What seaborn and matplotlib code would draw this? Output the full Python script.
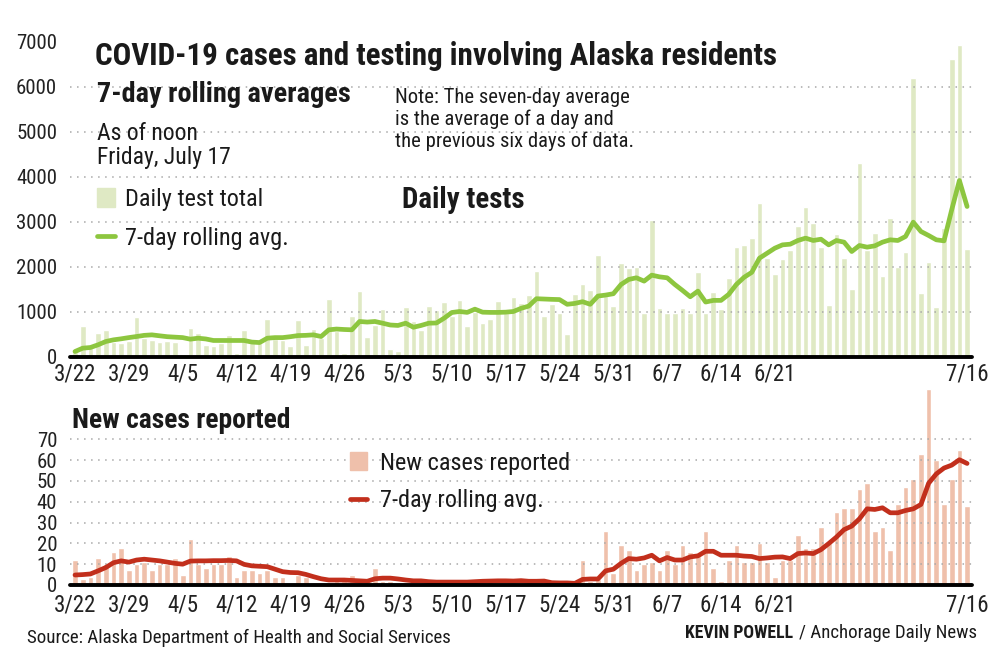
import numpy as np
import pandas as pd
import matplotlib
matplotlib.use("Agg")
import matplotlib.pyplot as plt
from matplotlib import font_manager
from matplotlib.patches import Rectangle
from matplotlib.lines import Line2D
import seaborn as sns

sns.set_style("white")

# pick a condensed font if one is installed
names = {f.name for f in font_manager.fontManager.ttflist}
if "Liberation Sans Narrow" in names:
    FONT, k = "Liberation Sans Narrow", 1.0
elif "Roboto Condensed" in names:
    FONT, k = "Roboto Condensed", 0.97
else:
    FONT, k = "Roboto", 0.82
plt.rcParams["font.family"] = [FONT, "DejaVu Sans"]

# 1) Data (3/22 - 7/16)
start = "2020-03-22"
end = "2020-07-16"

daily_tests = [
    100, 670, 250, 520, 580, 330, 300, 350, 885, 405,
    366, 330, 350, 330, 50, 634, 520, 252, 230, 290,
    480, 80, 595, 290, 290, 824, 382, 366, 229, 809,
    252, 610, 405, 1270, 557, 70, 895, 1460, 428, 705,
    1050, 160, 130, 1100, 800, 590, 1125, 1040, 1220, 890,
    1260, 670, 1000, 755, 830, 1237, 963, 1333, 1190, 1360,
    1900, 900, 1160, 960, 495, 1395, 1615, 1470, 2250, 1340,
    1125, 2070, 1970, 2000, 975, 3040, 1085, 975, 975, 1085,
    975, 1880, 975, 1440, 1060, 1750, 2430, 2470, 2630, 3422,
    2200, 1830, 2170, 2370, 2900, 3315, 2963, 2440, 1150, 2720,
    2200, 1500, 4300, 2370, 2755, 1800, 3074, 2000, 2333, 6185,
    1422, 2090, 1111, 2850, 6607, 6926, 2385,
]

tests_avg = [
    111, 185, 200, 260, 333, 370, 393, 420, 444, 470,
    481, 460, 440, 430, 420, 385, 407, 390, 356, 356,
    356, 356, 356, 320, 310, 407, 420, 420, 440, 465,
    470, 481, 444, 593, 610, 600, 593, 778, 765, 778,
    740, 700, 690, 740, 650, 690, 740, 745, 852, 978,
    1000, 980, 1052, 985, 980, 980, 985, 1000, 1070, 1120,
    1284, 1277, 1270, 1265, 1160, 1180, 1218, 1160, 1343, 1365,
    1395, 1600, 1712, 1749, 1675, 1808, 1770, 1749, 1600, 1468,
    1328, 1453, 1210, 1247, 1247, 1380, 1601, 1760, 1870, 2185,
    2296, 2407, 2481, 2496, 2578, 2630, 2578, 2607, 2481, 2578,
    2541, 2333, 2467, 2430, 2459, 2541, 2593, 2578, 2667, 2985,
    2778, 2689, 2593, 2570, 3259, 3911, 3333,
]

new_cases = [
    12, 3, 4, 13, 10, 16, 18, 7, 10, 11,
    7, 10, 10, 13, 5, 22, 10, 8, 10, 10,
    14, 4, 7, 7, 6, 7, 4, 4, 1, 5,
    4, 1, 1, 1, 2, 2, 5, 2, 1, 8,
    2, 2, 1, 1, 0, 1, 1, 0, 1, 1,
    1, 1, 3, 1, 2, 1, 1, 1, 1, 2,
    1, 1, 0, 0, 0, 0, 12, 2, 3, 26,
    6, 19, 17, 7, 10, 11, 7, 17, 10, 19,
    16, 14, 26, 8, 2, 12, 19, 11, 11, 20,
    11, 4, 12, 12, 24, 18, 18, 28, 20, 35,
    37, 37, 46, 49, 26, 28, 17, 39, 47, 51,
    63, 94, 60, 39, 51, 65, 38,
]

cases_avg = [
    4.8, 5.0, 5.3, 6.8, 8.4, 10.7, 11.6, 11.0, 12.0, 12.4,
    12.0, 11.6, 11.0, 10.4, 10.0, 11.5, 11.6, 11.6, 11.7, 11.7,
    11.8, 11.6, 9.9, 9.2, 9.0, 8.8, 7.6, 6.4, 6.0, 5.9,
    5.1, 4.0, 3.0, 2.4, 2.4, 2.4, 2.2, 2.0, 1.8, 3.0,
    3.3, 3.3, 2.9, 2.4, 2.0, 2.0, 1.6, 1.4, 1.4, 1.4,
    1.4, 1.4, 1.6, 1.8, 1.9, 2.0, 2.0, 1.9, 2.1, 1.8,
    1.8, 1.9, 1.1, 1.0, 1.0, 0.8, 2.7, 2.9, 2.9, 6.8,
    7.6, 10.4, 12.7, 12.4, 13.0, 14.3, 11.6, 13.2, 12.0, 12.0,
    13.5, 14.0, 16.2, 16.2, 14.3, 14.3, 14.3, 13.9, 13.7, 12.7,
    13.0, 13.4, 13.5, 12.7, 15.1, 15.4, 15.1, 17.0, 19.9, 23.0,
    26.6, 28.3, 31.8, 36.6, 36.3, 37.1, 34.7, 34.7, 35.8, 36.6,
    38.7, 48.9, 53.4, 56.2, 57.6, 60.2, 58.4,
]

tick_dates = ["2020-03-22", "2020-03-29", "2020-04-05", "2020-04-12", "2020-04-19",
              "2020-04-26", "2020-05-03", "2020-05-10", "2020-05-17", "2020-05-24",
              "2020-05-31", "2020-06-07", "2020-06-14", "2020-06-21", "2020-07-16"]
tick_labels = ["3/22", "3/29", "4/5", "4/12", "4/19", "4/26", "5/3", "5/10",
               "5/17", "5/24", "5/31", "6/7", "6/14", "6/21", "7/16"]
test_yticks = [0, 1000, 2000, 3000, 4000, 5000, 6000, 7000]
case_yticks = [0, 10, 20, 30, 40, 50, 60, 70]

# 2) Build frame
dates = pd.date_range(start, end)
df = pd.DataFrame({
    "date": dates,
    "tests": daily_tests,
    "tests_avg": tests_avg,
    "cases": new_cases,
    "cases_avg": cases_avg,
})
df["day"] = (df["date"] - dates[0]).dt.days
tick_pos = [(pd.Timestamp(d) - dates[0]).days for d in tick_dates]

GREEN_BAR = "#dfe9c4"
GREEN = "#8dc63f"
RED_BAR = "#efc0ab"
RED = "#c22f1c"
GRID = "#a8a8a8"

W, H = 992, 661
fig = plt.figure(figsize=(W / 100, H / 100), dpi=100)


def fx(px):
    return px / W


def fy(py):
    return 1 - py / H


ax1 = fig.add_axes([fx(70.4), fy(356.5), fx(901.3), 315 / H])
ax2 = fig.add_axes([fx(70.4), fy(585), fx(901.3), 197.7 / H])

# 3) Tests panel
sns.barplot(data=df, x="day", y="tests", color=GREEN_BAR, saturation=1,
            width=0.74, errorbar=None, native_scale=True, ax=ax1, zorder=1)
sns.lineplot(data=df, x="day", y="tests_avg", color=GREEN, lw=3.4,
             ax=ax1, zorder=3, solid_capstyle="round")

# 4) Cases panel
sns.barplot(data=df, x="day", y="cases", color=RED_BAR, saturation=1,
            width=0.74, errorbar=None, native_scale=True, ax=ax2, zorder=1)
sns.lineplot(data=df, x="day", y="cases_avg", color=RED, lw=3.4,
             ax=ax2, zorder=3, solid_capstyle="round")

for ax, yt, ymax, xpad in [(ax1, test_yticks, 7000, 4.5), (ax2, case_yticks, 95, 6)]:
    ax.set_xlim(-0.6, 116.6)
    ax.set_ylim(0, ymax)
    ax.set_yticks(yt)
    ax.set_yticklabels([str(v) for v in yt])
    ax.set_xticks(tick_pos)
    ax.set_xticklabels(tick_labels)
    ax.set_xlabel("")
    ax.set_ylabel("")
    for s in ax.spines.values():
        s.set_visible(False)
    ax.tick_params(axis="y", length=0, pad=9.5, labelsize=15.5 * k, colors="#222222")
    ax.tick_params(axis="x", length=0, pad=xpad, labelsize=17 * k, colors="#222222")
    for v in yt[1:]:
        ax.axhline(v, color=GRID, lw=1.1, ls=(0, (1, 3.6)), zorder=2)
    ax.axhline(0, color="black", lw=2.8, zorder=4, clip_on=False)
    ax.set_facecolor("none")

# 5) Text
TXT = "#1a1a1a"
fig.text(fx(95), fy(65), "COVID-19 cases and testing involving Alaska residents",
         fontsize=23 * k, fontweight="bold", color=TXT, va="baseline")
fig.text(fx(97), fy(102), "7-day rolling averages", fontsize=21 * k,
         fontweight="bold", color=TXT, va="baseline")
fig.text(fx(97), fy(140), "As of noon", fontsize=17.5 * k, color=TXT, va="baseline")
fig.text(fx(97), fy(164), "Friday, July 17", fontsize=17.5 * k, color=TXT, va="baseline")

note = ["Note: The seven-day average", "is the average of a day and",
        "the previous six days of data."]
for i, line in enumerate(note):
    fig.text(fx(395), fy(103 + 22 * i), line, fontsize=15.3 * k, color=TXT, va="baseline")

fig.text(fx(402), fy(208), "Daily tests", fontsize=21.5 * k, fontweight="bold",
         color=TXT, va="baseline")

# top legend
fig.patches.append(Rectangle((fx(97), fy(207)), fx(18), 19 / H, color=GREEN_BAR,
                             transform=fig.transFigure, figure=fig))
fig.text(fx(125), fy(206), "Daily test total", fontsize=18 * k, color=TXT, va="baseline")
fig.lines.append(Line2D([fx(97), fx(115)], [fy(236), fy(236)], color=GREEN, lw=3.4,
                        transform=fig.transFigure, figure=fig))
fig.text(fx(125), fy(245), "7-day rolling avg.", fontsize=18 * k, color=TXT, va="baseline")

# bottom panel text
fig.text(fx(72), fy(428), "New cases reported", fontsize=20.5 * k, fontweight="bold",
         color=TXT, va="baseline")
fig.patches.append(Rectangle((fx(350), fy(470)), fx(17), 18 / H, color=RED_BAR,
                             transform=fig.transFigure, figure=fig))
fig.text(fx(380), fy(470), "New cases reported", fontsize=18 * k, color=TXT, va="baseline")
fig.lines.append(Line2D([fx(350), fx(367)], [fy(499), fy(499)], color=RED, lw=3.4,
                        transform=fig.transFigure, figure=fig))
fig.text(fx(380), fy(507), "7-day rolling avg.", fontsize=18 * k, color=TXT, va="baseline")

fig.text(fx(27), fy(643), "Source: Alaska Department of Health and Social Services",
         fontsize=14 * k, color=TXT, va="baseline")
fig.text(fx(977), fy(638), "/ Anchorage Daily News", fontsize=14 * k, color=TXT,
         va="baseline", ha="right")
fig.text(fx(793), fy(638), "KEVIN POWELL", fontsize=13.2 * k, fontweight="bold",
         color=TXT, va="baseline", ha="right")

fig.savefig("out.png", dpi=100, facecolor="white")
